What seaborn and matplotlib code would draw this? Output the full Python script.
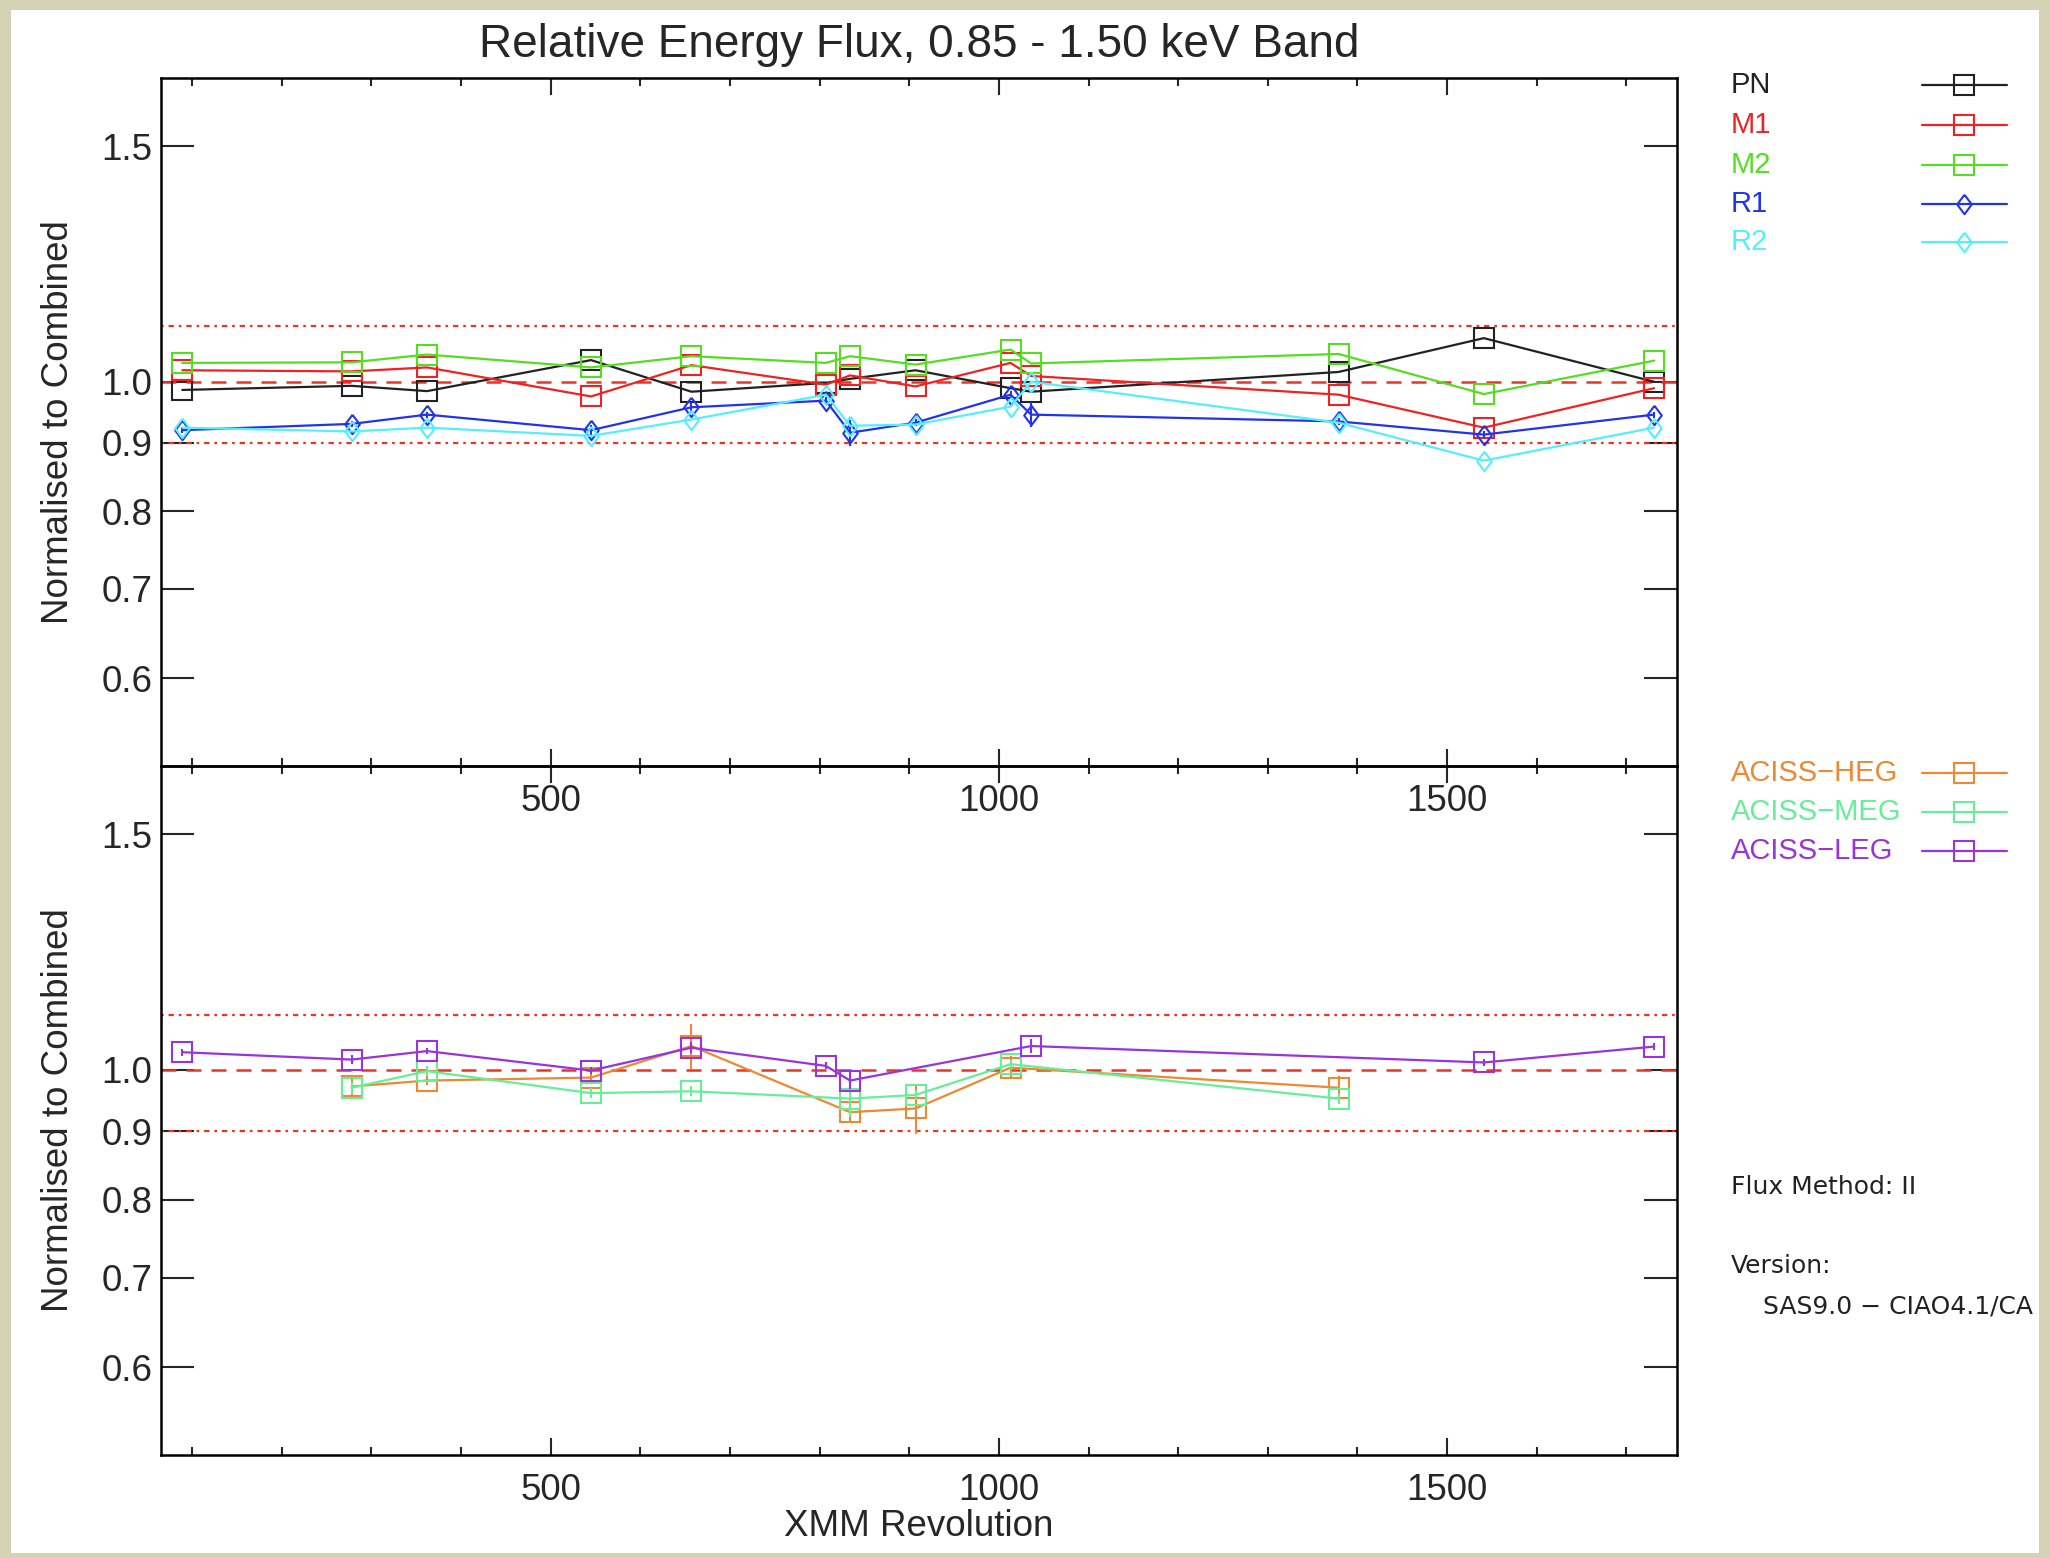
import matplotlib
matplotlib.use("Agg")
import matplotlib.pyplot as plt
from matplotlib.lines import Line2D
from matplotlib.patches import Rectangle
from matplotlib.ticker import MultipleLocator, NullLocator
import seaborn as sns

OUTPUT_FILE = "out.png"

# XMM revolutions and normalised fluxes (upper panel)
xmm_revs = [89, 278, 362, 545, 657, 807, 834, 907, 1013, 1036, 1379, 1541, 1731]
pn_flux = [0.986, 0.993, 0.984, 1.038, 0.983, 0.998, 1.005, 1.020, 0.989, 0.983, 1.017, 1.078, 1.000]
m1_flux = [1.020, 1.018, 1.025, 0.975, 1.029, 0.995, 1.011, 0.992, 1.033, 1.010, 0.978, 0.924, 0.989]
m2_flux = [1.033, 1.034, 1.048, 1.025, 1.045, 1.033, 1.045, 1.030, 1.057, 1.032, 1.049, 0.979, 1.037]
r1_flux = [0.920, 0.930, 0.945, 0.920, 0.957, 0.968, 0.916, 0.932, 0.978, 0.945, 0.934, 0.913, 0.945]
r1_err = [0.005, 0.005, 0.005, 0.008, 0.008, 0.006, 0.020, 0.006, 0.006, 0.020, 0.005, 0.006, 0.005]
r2_flux = [0.924, 0.918, 0.924, 0.911, 0.937, 0.978, 0.927, 0.929, 0.958, 1.000, 0.932, 0.873, 0.924]

# Chandra ACIS-S gratings (lower panel)
heg_revs = [278, 362, 545, 657, 834, 907, 1013, 1379]
heg_flux = [0.972, 0.982, 0.987, 1.042, 0.930, 0.936, 1.004, 0.970]
heg_err = [0.015, 0.008, 0.008, 0.040, 0.015, 0.040, 0.020, 0.020]
meg_revs = [278, 362, 545, 657, 834, 907, 1013, 1379]
meg_flux = [0.970, 0.998, 0.961, 0.964, 0.952, 0.958, 1.010, 0.952]
meg_err = [0.010, 0.008, 0.008, 0.008, 0.030, 0.008, 0.008, 0.008]
leg_revs = [89, 278, 362, 545, 657, 807, 834, 1036, 1541, 1731]
leg_flux = [1.031, 1.018, 1.033, 0.999, 1.039, 1.007, 0.982, 1.042, 1.013, 1.041]
leg_err = [0.006, 0.008, 0.006, 0.006, 0.010, 0.006, 0.015, 0.012, 0.006, 0.006]

y_ticks = [0.6, 0.7, 0.8, 0.9, 1.0, 1.5]
y_tick_labels = ["0.6", "0.7", "0.8", "0.9", "1.0", "1.5"]
x_ticks = [500, 1000, 1500]

DIAMOND = [(0, 1), (0.75, 0), (0, -1), (-0.75, 0), (0, 1)]
REF_RED = "#ee3322"
BEIGE = "#d5d3b5"

upper_series = [
    ("PN", xmm_revs, pn_flux, None, "#222222", "s"),
    ("M1", xmm_revs, m1_flux, None, "#ee2222", "s"),
    ("M2", xmm_revs, m2_flux, None, "#55dd22", "s"),
    ("R1", xmm_revs, r1_flux, r1_err, "#2233ee", DIAMOND),
    ("R2", xmm_revs, r2_flux, None, "#55eeff", DIAMOND),
]
lower_series = [
    ("ACISS\u2212HEG", heg_revs, heg_flux, heg_err, "#ee8833", "s"),
    ("ACISS\u2212MEG", meg_revs, meg_flux, meg_err, "#66ee99", "s"),
    ("ACISS\u2212LEG", leg_revs, leg_flux, leg_err, "#9933dd", "s"),
]

W, H = 2050, 1558

sns.set_style("ticks")
plt.rcParams["font.family"] = ["Liberation Sans", "DejaVu Sans"]

fig = plt.figure(figsize=(W / 100, H / 100), dpi=100)
fig.patch.set_facecolor(BEIGE)
fig.add_artist(Rectangle((11 / W, 1 - 1553 / H), 2028 / W, 1543 / H,
                         transform=fig.transFigure, facecolor="white",
                         edgecolor="none", zorder=-5))

ax_top = fig.add_axes([160.8 / W, 1 - 766 / H, 1516.6 / W, 687.6 / H])
ax_bot = fig.add_axes([160.8 / W, 1 - 1455 / H, 1516.6 / W, 689 / H])
ax_top.set_zorder(2)
ax_top.patch.set_visible(False)
ax_bot.patch.set_visible(False)


def draw_panel(ax, series):
    ax.axhline(1.0, color=REF_RED, lw=1.8, dashes=(6, 4), zorder=1)
    for lvl in (0.9, 1.1):
        ax.axhline(lvl, color=REF_RED, lw=1.6, linestyle=(0, (1.2, 2.2, 2.4, 2.2)), zorder=1)
    for name, xs, ys, err, col, mk in series:
        sns.lineplot(x=xs, y=ys, ax=ax, color=col, marker=mk, markersize=14,
                     markerfacecolor="none", markeredgecolor=col, markeredgewidth=1.5,
                     linewidth=1.6, estimator=None, sort=False, legend=False, zorder=3)
        if err is not None:
            ax.errorbar(xs, ys, yerr=err, fmt="none", ecolor=col, elinewidth=1.5,
                        capsize=0, zorder=3)

    ax.set_yscale("log")
    ax.set_ylim(0.516, 1.686)
    ax.set_xlim(65, 1757)
    ax.set_yticks(y_ticks)
    ax.set_yticklabels(y_tick_labels)
    ax.yaxis.set_minor_locator(NullLocator())
    ax.set_xticks(x_ticks)
    ax.xaxis.set_minor_locator(MultipleLocator(100))
    ax.tick_params(axis="y", which="major", direction="in", length=24, width=1.5,
                   left=True, right=True, labelsize=26.5, pad=6)
    ax.tick_params(axis="x", which="major", direction="in", length=12, width=1.5,
                   top=True, bottom=True, labelsize=26.5, pad=13)
    ax.tick_params(axis="x", which="minor", direction="in", length=6, width=1.5,
                   top=True, bottom=True)
    for sp in ax.spines.values():
        sp.set_visible(True)
        sp.set_linewidth(1.8)
        sp.set_color("black")
    ax.set_xlabel("")
    ax.set_ylabel("")


draw_panel(ax_top, upper_series)
draw_panel(ax_bot, lower_series)

cx = (160.8 + 1677.4) / 2 / W
fig.text(cx, 1 - 45 / H, "Relative Energy Flux, 0.85 - 1.50 keV Band",
         ha="center", va="center", fontsize=33)
fig.text(cx, 1 - 1526 / H, "XMM Revolution", ha="center", va="center", fontsize=26.5)
for yc in (422, 1110):
    fig.text(59 / W, 1 - yc / H, "Normalised to Combined", rotation=90,
             ha="center", va="center", fontsize=26.5)


# legend entries on the right, text left-aligned, sample on the far right
def legend_block(series, rows):
    for (name, xs, ys, err, col, mk), yr in zip(series, rows):
        yf = 1 - yr / H
        fig.text(1731 / W, yf, name, color=col, fontsize=21, ha="left", va="center")
        fig.add_artist(Line2D([1922 / W, 1964 / W, 2007 / W], [yf, yf, yf],
                              transform=fig.transFigure, color=col, lw=1.6,
                              marker=mk, markevery=[1], markersize=14,
                              markerfacecolor="none", markeredgecolor=col,
                              markeredgewidth=1.5))


legend_block(upper_series, [85, 125, 165, 204, 242])
legend_block(lower_series, [773, 812, 851])

note_font = ["DejaVu Sans"]
fig.text(1731 / W, 1 - 1187 / H, "Flux Method: II", fontsize=18, family=note_font,
         ha="left", va="center", color="#222222")
fig.text(1731 / W, 1 - 1266 / H, "Version:", fontsize=18, family=note_font,
         ha="left", va="center", color="#222222")
fig.text(1763 / W, 1 - 1306 / H, "SAS9.0 \u2212 CIAO4.1/CA", fontsize=18,
         family=note_font, ha="left", va="center", color="#222222")

fig.savefig(OUTPUT_FILE, dpi=100, facecolor=fig.get_facecolor())
